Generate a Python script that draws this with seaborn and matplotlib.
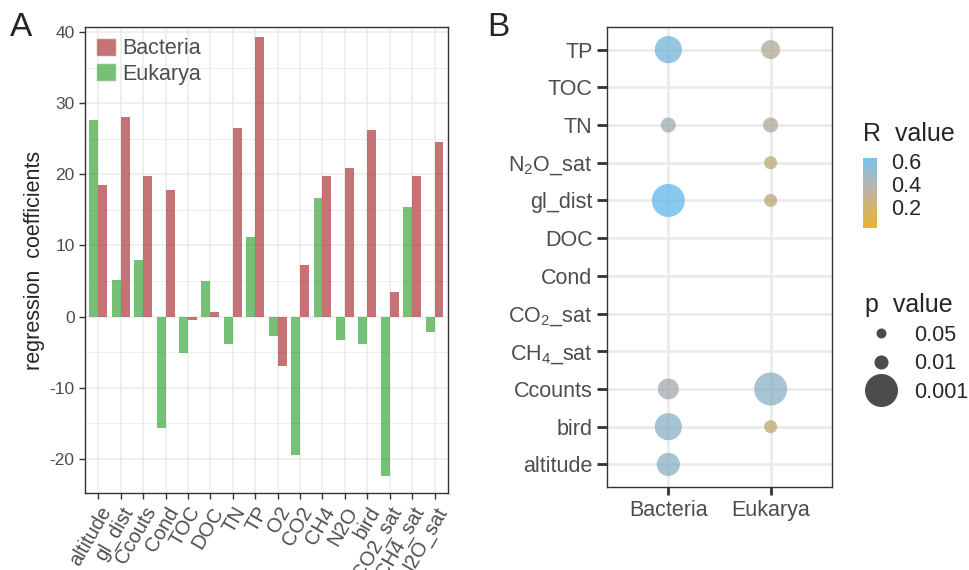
import matplotlib
matplotlib.use("Agg")
import matplotlib.pyplot as plt
from matplotlib.colors import LinearSegmentedColormap, Normalize
from matplotlib.lines import Line2D
from matplotlib.patches import Patch
import numpy as np
import pandas as pd
import seaborn as sns

sns.set_style("white")
plt.rcParams["font.family"] = ["Liberation Sans", "DejaVu Sans"]
plt.rcParams["mathtext.fontset"] = "custom"
plt.rcParams["mathtext.rm"] = "Liberation Sans"
plt.rcParams["mathtext.it"] = "Liberation Sans"
plt.rcParams["axes.unicode_minus"] = False

# Panel A data: regression coefficients
variables = ["altitude", "gl_dist", "Ccouts", "Cond", "TOC", "DOC", "TN", "TP",
             "O2", "CO2", "CH4", "N2O", "bird", "CO2_sat", "CH4_sat", "N2O_sat"]
bacteria = [18.5, 28.1, 19.8, 17.8, -0.5, 0.6, 26.5, 39.3,
            -6.9, 7.2, 19.8, 20.9, 26.2, 3.4, 19.7, 24.6]
eukarya = [27.6, 5.1, 8.0, -15.7, -5.1, 5.0, -3.9, 11.2,
           -2.7, -19.5, 16.7, -3.3, -3.8, -22.4, 15.4, -2.2]

# Panel B data: significant correlations
b_rows = ["TP", "TOC", "TN", "N2O_sat", "gl_dist", "DOC", "Cond",
          "CO2_sat", "CH4_sat", "Ccounts", "bird", "altitude"]
b_row_labels = ["TP", "TOC", "TN", "N$_2$O_sat", "gl_dist", "DOC", "Cond",
                "CO$_2$_sat", "CH$_4$_sat", "Ccounts", "bird", "altitude"]
domains = ["Bacteria", "Eukarya"]
b_var = ["TP", "TN", "gl_dist", "Ccounts", "bird", "altitude",
         "TP", "TN", "N2O_sat", "gl_dist", "Ccounts", "bird"]
b_domain = ["Bacteria"] * 6 + ["Eukarya"] * 6
r_values = [0.57, 0.44, 0.63, 0.42, 0.50, 0.50,
            0.36, 0.36, 0.28, 0.28, 0.50, 0.27]
p_values = [0.0016, 0.008, 0.001, 0.0031, 0.0016, 0.0024,
            0.004, 0.008, 0.013, 0.013, 0.001, 0.013]
p_breaks = [0.05, 0.01, 0.001]

red = "#A52A2A"
green = "#2E9E2E"
grid_col = "#EBEBEB"
text_col = "#4D4D4D"
frame_col = "#333333"

fig = plt.figure(figsize=(9.69, 5.70), dpi=100)

# ---- Panel A
axA = fig.add_axes([0.0877, 0.1351, 0.3746, 0.8175])
df_a = pd.DataFrame({
    "variable": variables * 2,
    "value": bacteria + eukarya,
    "domain": ["Bacteria"] * len(variables) + ["Eukarya"] * len(variables),
})
sns.barplot(data=df_a, x="variable", y="value", hue="domain",
            hue_order=["Eukarya", "Bacteria"],
            palette={"Bacteria": red, "Eukarya": green},
            alpha=0.65, saturation=1, width=0.8, linewidth=0,
            errorbar=None, legend=False, ax=axA)
axA.set_xlim(-0.6, 15.6)
axA.set_ylim(-24.8, 40.7)
axA.set_yticks([-20, -10, 0, 10, 20, 30, 40])
axA.set_yticks([-15, -5, 5, 15, 25, 35], minor=True)
axA.set_axisbelow(True)
axA.grid(True, which="major", color=grid_col, lw=1.1)
axA.grid(True, which="minor", axis="y", color=grid_col, lw=0.6)
axA.set_xticks(range(len(variables)))
axA.set_xticklabels(variables, rotation=60, ha="right", rotation_mode="anchor",
                    fontsize=14.5, color=text_col)
axA.tick_params(axis="y", labelsize=12.5, labelcolor=text_col)
axA.tick_params(axis="both", which="major", length=4, width=1, color=frame_col,
                direction="out", bottom=True, left=True)
axA.tick_params(which="minor", length=0)
axA.set_xlabel("")
axA.set_ylabel("regression  coefficients", fontsize=15.5, labelpad=3)
for s in axA.spines.values():
    s.set_color(frame_col)
    s.set_linewidth(1)
leg_handles = [Patch(facecolor=red, alpha=0.65, label="Bacteria"),
               Patch(facecolor=green, alpha=0.65, label="Eukarya")]
axA.legend(handles=leg_handles, loc="upper left", frameon=False, fontsize=15.5,
           handlelength=0.95, handleheight=0.9, handletextpad=0.3,
           labelspacing=0.2, borderaxespad=0.0, borderpad=0.5,
           labelcolor=text_col)

# ---- Panel B
axB = fig.add_axes([0.6264, 0.1456, 0.2322, 0.807])
df_b = pd.DataFrame({"variable": b_var, "domain": b_domain,
                     "R": r_values, "p": p_values})
row_order = b_rows[::-1]
df_b["y"] = pd.Categorical(df_b["variable"], categories=row_order).codes
df_b["x"] = pd.Categorical(df_b["domain"], categories=domains).codes
df_b["psize"] = df_b["p"] ** -0.9

r_cmap = LinearSegmentedColormap.from_list(
    "rval", [(0, "#E69F00"), (0.62, "#A4A4A0"), (1, "#56B4E9")])
r_lim = (0.02, 0.63)
area_range = (52, 565)
size_lim = (0.05 ** -0.9, 0.001 ** -0.9)

axB.set_axisbelow(True)
sns.scatterplot(data=df_b, x="x", y="y", hue="R", size="psize",
                palette=r_cmap, hue_norm=r_lim, sizes=area_range,
                size_norm=size_lim, alpha=0.7, linewidth=0, legend=False,
                ax=axB, zorder=3)
axB.set_xlim(-0.6, 1.6)
axB.set_ylim(-0.6, len(b_rows) - 0.4)
axB.set_xticks(range(len(domains)))
axB.set_xticklabels(domains, fontsize=15.5, color=text_col)
axB.set_yticks(range(len(b_rows)))
axB.set_yticklabels(b_row_labels[::-1], fontsize=15.5, color=text_col)
axB.grid(True, color=grid_col, lw=2)
axB.tick_params(axis="y", length=7, width=2, color=frame_col, left=True)
axB.tick_params(axis="x", length=6, width=2, color=frame_col, bottom=True)
axB.set_xlabel("")
axB.set_ylabel("")
for s in axB.spines.values():
    s.set_color(frame_col)
    s.set_linewidth(1)

# colour legend
fig.text(863 / 969, 1 - 134 / 570, "R  value", fontsize=18, va="center")
cax = fig.add_axes([863 / 969, 1 - 228 / 570, 14 / 969, 70 / 570])
cb = fig.colorbar(plt.cm.ScalarMappable(norm=Normalize(*r_lim), cmap=r_cmap),
                  cax=cax, ticks=[0.2, 0.4, 0.6])
cb.outline.set_visible(False)
cb.ax.tick_params(length=3, width=1, color="white", direction="in",
                  labelsize=15.5, pad=10, left=True, right=True)
cb.solids.set_alpha(0.8)

# size legend
def p_area(p):
    t = p ** -0.9
    return area_range[0] + (t - size_lim[0]) / (size_lim[1] - size_lim[0]) * (area_range[1] - area_range[0])

size_handles = [Line2D([], [], marker="o", linestyle="", color="black", alpha=0.7,
                       markeredgewidth=0, markersize=np.sqrt(p_area(p)), label=str(p))
                for p in p_breaks]
fig.legend(handles=size_handles, title="p  value", loc="upper left",
           bbox_to_anchor=(850 / 969, 1 - 278 / 570), frameon=False,
           fontsize=15.5, title_fontsize=18, labelspacing=0.35,
           handlelength=1.5, handletextpad=0.8, borderpad=0.2,
           alignment="left")

fig.text(10 / 969, 1 - 28 / 570, "A", fontsize=24, va="center")
fig.text(487 / 969, 1 - 28 / 570, "B", fontsize=24, va="center")

fig.savefig("out.png", dpi=100)
